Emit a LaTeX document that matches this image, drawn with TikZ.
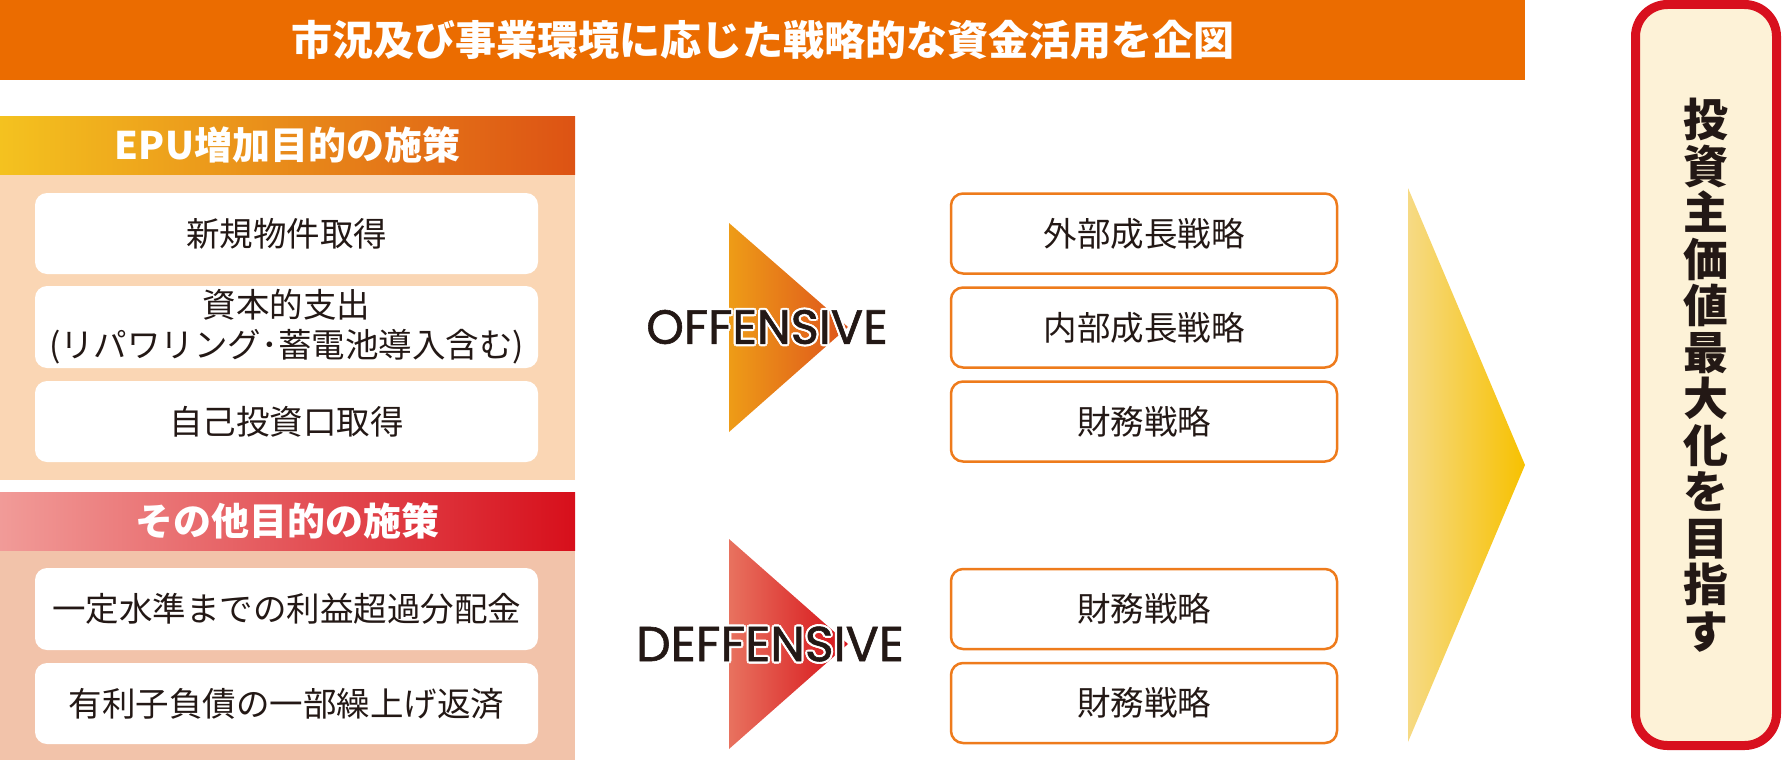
\documentclass[tikz,border=0pt]{standalone}
\usepackage{fontspec}
\newfontfamily\jp{Noto Sans CJK JP}
\newfontfamily\geo{Poppins}[FakeBold=1.2]
\definecolor{topbar}{HTML}{EB6C00}
\definecolor{epuL}{HTML}{F4C21F}
\definecolor{epuR}{HTML}{DD5314}
\definecolor{panelA}{HTML}{FAD6B4}
\definecolor{othL}{HTML}{F19B98}
\definecolor{othR}{HTML}{D70F1B}
\definecolor{panelB}{HTML}{F2C3AA}
\definecolor{boxline}{HTML}{EE7B1C}
\definecolor{offL}{HTML}{EE9C17}
\definecolor{offR}{HTML}{DE531C}
\definecolor{defL}{HTML}{E8725F}
\definecolor{defR}{HTML}{D71118}
\definecolor{yelL}{HTML}{F6DA85}
\definecolor{yelR}{HTML}{F7C100}
\definecolor{redB}{HTML}{D8101E}
\definecolor{cream}{HTML}{FDF2D7}
\definecolor{ink}{HTML}{231815}
\begin{document}
\begin{tikzpicture}[x=1pt,y=-1pt,
  titlebar/.style={fill=topbar, minimum width=1525pt, minimum height=80pt, inner sep=0pt,
    text=white, font=\jp\bfseries\fontsize{41}{44}\selectfont},
  hdr/.style={minimum width=575pt, minimum height=58pt, inner sep=0pt,
    text=white, font=\jp\bfseries\fontsize{38}{40}\selectfont},
  lbox/.style={fill=white, rounded corners=12pt, minimum width=503pt, inner sep=0pt,
    text=ink, align=center, font=\jp\fontsize{33.5}{40}\selectfont},
  rbox/.style={fill=white, draw=boxline, line width=2.5pt, rounded corners=12pt,
    minimum width=386pt, minimum height=80pt, inner sep=0pt,
    text=ink, font=\jp\fontsize{33.5}{40}\selectfont},
  engl/.style={inner sep=0pt},
  goal/.style={fill=cream, draw=redB, line width=9pt, rounded corners=32pt,
    minimum width=141pt, minimum height=741pt, inner sep=0pt,
    text=ink, align=center, font=\jp\bfseries\fontsize{45}{46.5}\selectfont}
]
\useasboundingbox (0,0) rectangle (1784,760);
% title bar
\node[titlebar] (title) at (762.5,40) {市況及び事業環境に応じた戦略的な資金活用を企図};
% left panels
\fill[panelA] (0,174) rectangle (575,480);
\fill[panelB] (0,550) rectangle (575,760);
\node[hdr, left color=epuL, right color=epuR] (epuh) at (287.5,145) {EPU増加目的の施策};
\node[hdr, left color=othL, right color=othR] (othh) at (287.5,521) {その他目的の施策};
\node[lbox, minimum height=81pt] (l1) at (286.5,233.5) {新規物件取得};
\node[lbox, minimum height=82pt] (l2) at (286.5,327) {資本的支出\\(リパワリング･蓄電池導入含む)};
\node[lbox, minimum height=81pt] (l3) at (286.5,421.5) {自己投資口取得};
\node[lbox, minimum height=82pt] (l4) at (286.5,609) {一定水準までの利益超過分配金};
\node[lbox, minimum height=81pt] (l5) at (286.5,703.5) {有利子負債の一部繰上げ返済};
% middle arrows
\shade[left color=offL, right color=offR] (729,223) -- (848,327) -- (729,432) -- cycle;
\shade[left color=defL, right color=defR] (729,539) -- (848,644) -- (729,749) -- cycle;
\foreach \dx/\dy [count=\i] in {-2.2/0,2.2/0,0/-2.2,0/2.2,-1.6/-1.6,1.6/1.6,-1.6/1.6,1.6/-1.6}{
  \node[engl, font=\geo\fontsize{48}{50}\selectfont, text=white, xshift=\dx pt, yshift=\dy pt] (offh\i) at (767,327) {OFFENSIVE};
  \node[engl, font=\geo\fontsize{49}{50}\selectfont, text=white, xshift=\dx pt, yshift=\dy pt] (defh\i) at (770,644) {DEFFENSIVE};
}
\node[engl, font=\geo\fontsize{48}{50}\selectfont, text=ink] (off) at (767,327) {OFFENSIVE};
\node[engl, font=\geo\fontsize{49}{50}\selectfont, text=ink] (def) at (770,644) {DEFFENSIVE};
% right boxes
\node[rbox] (r1) at (1144,233.5) {外部成長戦略};
\node[rbox] (r2) at (1144,327.5) {内部成長戦略};
\node[rbox] (r3) at (1144,421.5) {財務戦略};
\node[rbox] (r4) at (1144,609) {財務戦略};
\node[rbox] (r5) at (1144,703) {財務戦略};
% big arrow
\shade[left color=yelL, right color=yelR] (1408,188) -- (1525,465) -- (1408,742) -- cycle;
% goal
\node[goal] (goalbox) at (1706,375) {投\\資\\主\\価\\値\\最\\大\\化\\を\\目\\指\\す};
\end{tikzpicture}
\end{document}
